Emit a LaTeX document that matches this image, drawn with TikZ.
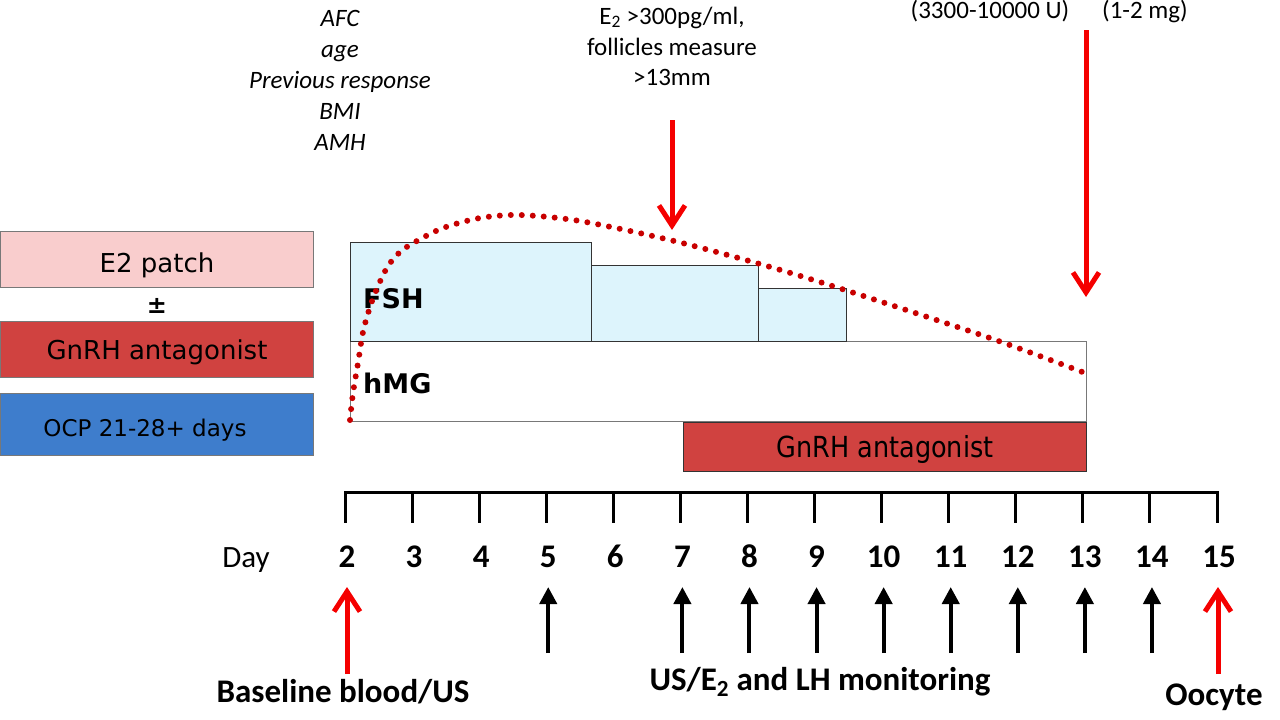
\documentclass[tikz,border=0pt]{standalone}
\usepackage{fontspec}
\setmainfont{Carlito}
\newfontfamily\verd{DejaVu Sans}
\newfontfamily\verdc[FakeStretch=0.88]{DejaVu Sans}
\usetikzlibrary{arrows.meta}
\definecolor{pinkbox}{RGB}{249,205,205}
\definecolor{redbox}{RGB}{208,66,64}
\definecolor{bluebox}{RGB}{62,125,204}
\definecolor{cyanbox}{RGB}{221,244,252}
\definecolor{edgegray}{RGB}{120,120,120}
\definecolor{dotred}{RGB}{200,0,0}
\definecolor{arrred}{RGB}{245,0,0}
\tikzset{
  leftbox/.style={draw=edgegray, line width=1pt, minimum width=313, outer sep=0pt, inner sep=0pt},
  fshbox/.style={draw=black!80, line width=1pt, fill=cyanbox, outer sep=0pt, inner sep=0pt},
  hmgbox/.style={draw=edgegray, line width=1pt, fill=white, outer sep=0pt, inner sep=0pt},
  cal/.style={font=\fontsize{25}{31}\selectfont, inner sep=0pt},
  calit/.style={font=\fontsize{25}{31}\selectfont\itshape, inner sep=0pt},
  boldlbl/.style={font=\fontsize{33}{40}\selectfont\bfseries, inner sep=0pt},
  daynum/.style={font=\fontsize{33}{40}\selectfont\bfseries, inner sep=0pt, anchor=base},
  redarrow/.style={draw=arrred, line width=5pt, -{Straight Barb[length=20pt,width=26pt,line width=5pt]}},
  blkarrow/.style={draw=black, line width=4pt, -{Triangle[length=17pt,width=17pt]}},
  tl/.style={line width=3pt, line cap=rect},
}
\begin{document}
\begin{tikzpicture}[x=1pt,y=-1pt]
\useasboundingbox (0,0) rectangle (1280,720);

% ---- left boxes
\node[leftbox, fill=pinkbox, minimum height=56] (e2) at (157,259.5) {};
\node[font=\verd\fontsize{26}{30}\selectfont, inner sep=0pt] (e2t) at (157,265) {E2 patch};
\node[font=\verd\bfseries\fontsize{24}{30}\selectfont, inner sep=0pt] (pm) at (157,306) {±};
\node[leftbox, fill=redbox, minimum height=56] (gl) at (157,349) {};
\node[font=\verd\fontsize{26}{30}\selectfont, inner sep=0pt] (glt) at (157,352) {GnRH antagonist};
\node[leftbox, fill=bluebox, minimum height=62] (ocp) at (157,424) {};
\node[font=\verd\fontsize{23}{28}\selectfont, inner sep=0pt] (ocpt) at (145,430) {OCP 21-28+ days};

% ---- stimulation boxes
\node[hmgbox, minimum width=736, minimum height=80] (hmg) at (718,381) {};
\node[fshbox, minimum width=241, minimum height=99] (f1) at (470.5,291.5) {};
\node[fshbox, minimum width=167, minimum height=76] (f2) at (674.5,303) {};
\node[fshbox, minimum width=88, minimum height=53] (f3) at (802,314.5) {};
\node[draw=black!80, line width=1pt, fill=redbox, minimum width=403, minimum height=49, outer sep=0pt] (ga) at (884.5,446.5) {};
\node[font=\verdc\fontsize{29}{32}\selectfont, inner sep=0pt] (gat) at (885,449) {GnRH antagonist};
\node[font=\verd\bfseries\fontsize{27}{30}\selectfont, inner sep=0pt, anchor=base west] (fsh) at (363,308) {FSH};
\node[font=\verd\bfseries\fontsize{27}{30}\selectfont, inner sep=0pt, anchor=base west] (hmgt) at (363,393) {hMG};

% ---- dotted E2 curve
\draw[dotred, line width=6pt, line cap=round, dash pattern=on 0pt off 11pt]
  plot[smooth, tension=0.5] coordinates {(350,420) (353,393) (358,363) (363,332) (370,307) (378,286) (388,266) (400,252) (415,242) (443,228) (480,218) (520,215) (580,221) (670,240) (760,264) (845,290) (990,338) (1085,373)};

% ---- top texts
\node[calit, anchor=base] (afc) at (340,26) {AFC};
\node[calit, anchor=base] (age) at (340,57) {age};
\node[calit, anchor=base] (prev) at (340,88) {Previous response};
\node[calit, anchor=base] (bmi) at (340,119) {BMI};
\node[calit, anchor=base] (amh) at (340,150) {AMH};
\node[cal, anchor=base] (e2a) at (672,24) {E\textsubscript{2} >300pg/ml,};
\node[cal, anchor=base] (e2b) at (672,55) {follicles measure};
\node[cal, anchor=base] (e2c) at (672,85) {>13mm};
\node[cal, anchor=base] (hcg) at (990,18) {(3300-10000 U)};
\node[cal, anchor=base] (gnrha) at (1145,18) {(1-2 mg)};

% ---- red trigger arrows
\coordinate (a1s) at (672,120);
\coordinate (a1e) at (672,230);
\coordinate (a2s) at (1086,30);
\coordinate (a2e) at (1086,297);
\draw[redarrow] (a1s) -- (a1e);
\draw[redarrow] (a2s) -- (a2e);

% ---- timeline
\coordinate (tl0) at (345,492);
\coordinate (tl1) at (1217,492);
\draw[tl] (tl0) -- (tl1);
\node[font=\fontsize{31}{36}\selectfont, inner sep=0pt, anchor=base] (day) at (246,567) {Day};
\foreach \d in {2,...,15}{
  \pgfmathsetmacro{\xx}{345+(\d-2)*67.08}
  \coordinate (tk\d) at (\xx,492);
  \coordinate (tb\d) at (\xx,523);
  \draw[line width=3pt] (tk\d) -- (tb\d);
  \node[daynum] (n\d) at (\xx+2,567) {\d};
}
\foreach \d in {5,7,8,9,10,11,12,13,14}{
  \pgfmathsetmacro{\xx}{345+(\d-2)*67.08+2}
  \coordinate (ab\d) at (\xx,653);
  \coordinate (at\d) at (\xx,587);
  \draw[blkarrow] (ab\d) -- (at\d);
}
\coordinate (r2b) at (347,674);
\coordinate (r2t) at (347,587);
\coordinate (r15b) at (1218,674);
\coordinate (r15t) at (1218,587);
\draw[redarrow] (r2b) -- (r2t);
\draw[redarrow] (r15b) -- (r15t);

\node[boldlbl, anchor=base] (base) at (343,702) {Baseline blood/US};
\node[boldlbl, anchor=base] (mon) at (820,690) {US/E\textsubscript{2} and LH monitoring};
\node[boldlbl, anchor=base] (oo) at (1214,705) {Oocyte};
\end{tikzpicture}
\end{document}
